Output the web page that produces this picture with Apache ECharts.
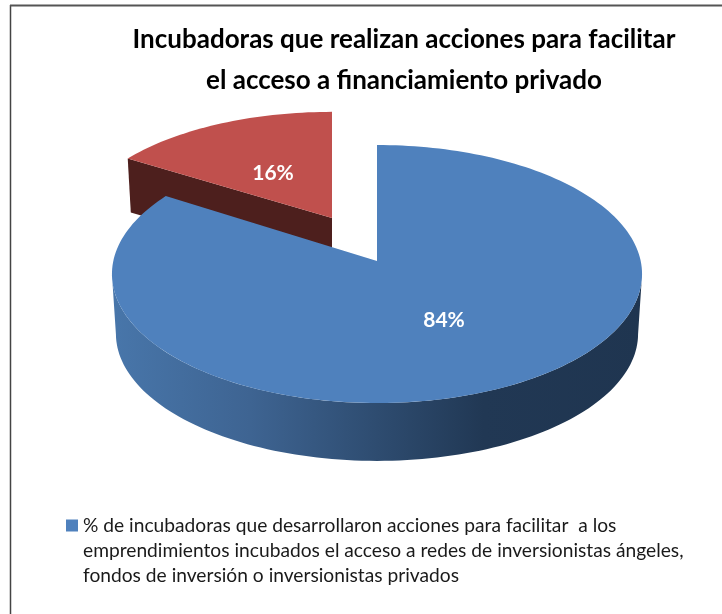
<!DOCTYPE html>
<html><head><meta charset="utf-8">
<style>html,body{margin:0;padding:0;background:#fff}#c{width:722px;height:614px}</style>
<script src="https://cdn.jsdelivr.net/npm/echarts@6/dist/echarts.min.js"></script>
</head><body><div id="c"></div>
<script>
const titleLines = ['Incubadoras que realizan acciones para facilitar', 'el acceso a financiamiento privado'];
const legendLines = ['% de incubadoras que desarrollaron acciones para facilitar  a los',
  'emprendimientos incubados el acceso a redes de inversionistas ángeles,',
  'fondos de inversión o inversionistas privados'];
const sliceNames = [legendLines.join('\n'), 'Otras incubadoras'];
const sliceValues = [84, 16];
const sliceColors = ['#4F81BD', '#C0504D'];

const total = sliceValues.reduce((a, b) => a + b, 0);
const K = 0.1008, A = 127.7, B = 263.7, D2R = Math.PI / 180;

function pt(cx, cy, sx, sy, deg) {
  const u = Math.sin(deg * D2R), v = -Math.cos(deg * D2R), d = 1 - K * v;
  return [cx + sx * B * u / d, cy + sy * A * v / d];
}
function arc(cx, cy, sx, sy, a, b) {
  const out = [], n = Math.max(2, Math.ceil(Math.abs(b - a) / 1.5));
  for (let i = 0; i <= n; i++) out.push(pt(cx, cy, sx, sy, a + (b - a) * i / n));
  return out;
}
const sideFill = {type: 'linear', x: 112, y: 0, x2: 643, y2: 0, global: true, colorStops: [
  {offset: 0, color: '#4876aa'}, {offset: 0.26, color: '#3e6492'}, {offset: 0.5, color: '#2e4c70'},
  {offset: 0.7, color: '#213854'}, {offset: 1, color: '#1f3550'}]};

function renderBlue(params, api) {
  const v = api.value(0), end = v / total * 360;
  const cx = 377, cy = 261;
  const front = arc(cx, cy, 1, 1, 96, 264);
  const back = arc(cx, cy + 60, 0.985, 0.985, 264, 96);
  const top = [[cx, cy]].concat(arc(cx, cy, 1, 1, 0, end));
  return {type: 'group', children: [
    {type: 'polygon', shape: {points: front.concat(back)}, style: {fill: sideFill}},
    {type: 'polygon', shape: {points: top}, style: {fill: sliceColors[0]}},
    {type: 'text', style: {text: Math.round(v) + '%', x: 444, y: 320, align: 'center', verticalAlign: 'middle',
      fill: '#fff', font: 'bold 21px Lato'}}
  ]};
}
function renderRed(params, api) {
  const v = api.value(0), start = sliceValues[0] / total * 360, end = start + v / total * 360;
  const cx = 332, cy = 218;
  const corner = pt(cx, cy, 0.967, 0.915, start);
  const cornerB = pt(cx, cy + 53, 0.967 * 0.985, 0.915 * 0.985, start);
  const top = [[cx, cy]].concat(arc(cx, cy, 0.967, 0.915, start, end));
  return {type: 'group', children: [
    {type: 'polygon', shape: {points: [[cx, cy], corner, cornerB, [cx, cy + 53]]}, style: {fill: '#4d1f1d'}},
    {type: 'polygon', shape: {points: top}, style: {fill: sliceColors[1]}},
    {type: 'text', style: {text: Math.round(v) + '%', x: 273, y: 173, align: 'center', verticalAlign: 'middle',
      fill: '#fff', font: 'bold 21px Lato'}}
  ]};
}
const chart = echarts.init(document.getElementById('c'), null, {renderer: 'canvas'});
chart.setOption({
  animation: false,
  backgroundColor: '#fff',
  title: {text: titleLines.join('\n'), left: 399, top: 14, textAlign: 'center',
    textStyle: {fontFamily: 'Lato', fontWeight: 'bold', fontSize: 26, lineHeight: 41, color: '#000'}},
  legend: {data: [{name: sliceNames[0], icon: 'rect'}], left: 66, top: 463, orient: 'vertical', padding: 0,
    itemWidth: 12, itemHeight: 12, itemGap: 0, selectedMode: false,
    formatter: name => '\n\n' + name,
    textStyle: {fontFamily: 'Lato', fontSize: 19.2, lineHeight: 25, color: '#1a1a1a'}},
  graphic: [
    {type: 'line', shape: {x1: 10.5, y1: 5, x2: 10.5, y2: 614}, style: {stroke: '#444', lineWidth: 1.5}},
    {type: 'line', shape: {x1: 10, y1: 5.5, x2: 722, y2: 5.5}, style: {stroke: '#555', lineWidth: 2}}
  ],
  series: [
    {type: 'custom', name: sliceNames[1], coordinateSystem: 'none', z: 1, silent: true,
     itemStyle: {color: sliceColors[1]}, data: [[sliceValues[1]]], renderItem: renderRed},
    {type: 'custom', name: sliceNames[0], coordinateSystem: 'none', z: 2, silent: true,
     itemStyle: {color: sliceColors[0]}, data: [[sliceValues[0]]], renderItem: renderBlue}
  ]
});
</script></body></html>
